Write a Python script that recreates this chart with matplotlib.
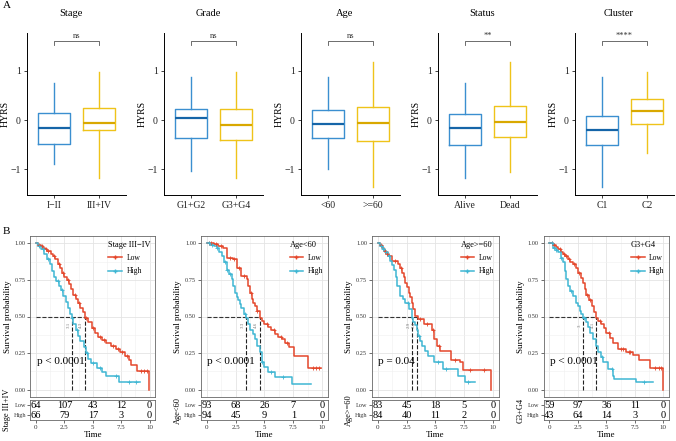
import numpy as np
import matplotlib.pyplot as plt
from matplotlib.lines import Line2D

plt.rcParams['font.family'] = ['Liberation Serif', 'DejaVu Serif']

# ---------------- panel A: HYRS boxplots ----------------
box_titles = ['Stage', 'Grade', 'Age', 'Status', 'Cluster']
box_groups = [['I\u2212II', 'III+IV'], ['G1+G2', 'G3+G4'], ['<60', '>=60'],
              ['Alive', 'Dead'], ['C1', 'C2']]
box_signif = ['ns', 'ns', 'ns', '**', '****']
# (whisker low, q1, median, q3, whisker high)
stage_box = [(-0.885, -0.49, -0.155, 0.14, 0.75), (-1.18, -0.20, -0.06, 0.24, 0.97)]
grade_box = [(-1.04, -0.37, 0.034, 0.22, 0.885), (-1.18, -0.40, -0.10, 0.23, 0.97)]
age_box = [(-0.99, -0.36, -0.07, 0.20, 0.885), (-1.36, -0.43, -0.05, 0.26, 1.19)]
status_box = [(-1.18, -0.51, -0.155, 0.12, 0.76), (-1.05, -0.34, -0.03, 0.29, 1.19)]
cluster_box = [(-1.36, -0.50, -0.20, 0.09, 0.885), (-0.67, -0.07, 0.18, 0.42, 0.97)]
box_data = [stage_box, grade_box, age_box, status_box, cluster_box]

# ---------------- panel B: Kaplan-Meier curves ----------------
km_titles = ['Stage III\u2212IV', 'Age<60', 'Age>=60', 'G3+G4']
km_table_labels = ['Stage III+IV', 'Age<60', 'Age>=60', 'G3+G4']
km_pvals = ['p < 0.0001', 'p < 0.0001', 'p = 0.04', 'p < 0.0001']

stage_low_t = [0, 0.2, 0.4, 0.6, 0.8, 1.0, 1.3, 1.5, 1.7, 1.9, 2.1, 2.3, 2.5, 2.7, 2.9, 3.1, 3.3, 3.5,
               3.7, 3.9, 4.1, 4.3, 4.6, 4.9, 5.2, 5.5, 5.8, 6.2, 6.6, 7.0, 7.4, 7.8, 8.2, 8.4, 8.9, 9.95]
stage_low_s = [1, 0.99, 0.98, 0.97, 0.96, 0.945, 0.93, 0.91, 0.89, 0.86, 0.83, 0.80, 0.77, 0.75, 0.72,
               0.69, 0.65, 0.62, 0.59, 0.56, 0.53, 0.49, 0.46, 0.42, 0.39, 0.36, 0.34, 0.32, 0.30, 0.28,
               0.26, 0.23, 0.20, 0.17, 0.13, 0.0]
stage_high_t = [0, 0.2, 0.4, 0.7, 1.0, 1.2, 1.4, 1.6, 1.8, 2.0, 2.2, 2.4, 2.6, 2.8, 3.0, 3.15, 3.3, 3.5,
                3.7, 3.9, 4.2, 4.4, 4.6, 4.8, 5.4, 5.8, 6.2, 7.3, 9.15]
stage_high_s = [1, 0.98, 0.96, 0.93, 0.89, 0.86, 0.81, 0.77, 0.74, 0.71, 0.68, 0.64, 0.60, 0.56, 0.52,
                0.49, 0.45, 0.41, 0.37, 0.33, 0.29, 0.25, 0.21, 0.18, 0.15, 0.12, 0.095, 0.05, 0.05]
stage_low_cens = [0.3, 0.5, 0.9, 1.1, 1.6, 2.0, 2.4, 2.8, 3.4, 3.8, 4.4, 5.0, 5.6, 6.0, 6.8, 7.2, 7.6,
                  8.0, 9.2, 9.5, 9.8]
stage_high_cens = [0.3, 0.6, 1.1, 1.9, 2.3, 3.2, 3.6, 4.5, 5.0, 5.6, 7.0, 8.2, 8.8]

young_low_t = [0, 0.6, 1.0, 1.45, 1.75, 2.3, 2.6, 3.0, 3.45, 3.6, 3.75, 3.9, 4.05, 4.2, 4.35, 4.6, 4.8,
               5.0, 5.3, 5.6, 5.9, 6.2, 6.5, 6.8, 7.1, 7.6, 8.8, 9.9]
young_low_s = [1, 0.995, 0.985, 0.97, 0.90, 0.89, 0.83, 0.78, 0.755, 0.71, 0.66, 0.62, 0.595, 0.57,
               0.54, 0.49, 0.47, 0.45, 0.43, 0.41, 0.38, 0.36, 0.345, 0.32, 0.29, 0.23, 0.15, 0.15]
young_high_t = [0, 0.3, 0.6, 0.86, 1.1, 1.3, 1.5, 1.73, 1.95, 2.16, 2.3, 2.45, 2.6, 2.74, 2.9, 3.0, 3.2,
                3.4, 3.6, 3.75, 4.0, 4.2, 4.4, 4.6, 4.75, 5.0, 5.3, 5.9, 7.35, 9.0]
young_high_s = [1, 0.99, 0.98, 0.97, 0.94, 0.91, 0.87, 0.82, 0.79, 0.755, 0.71, 0.66, 0.635, 0.61,
                0.585, 0.56, 0.52, 0.49, 0.45, 0.41, 0.38, 0.345, 0.30, 0.255, 0.19, 0.155, 0.12, 0.085,
                0.04, 0.04]
young_low_cens = [0.2, 0.4, 0.8, 1.2, 2.0, 2.4, 2.8, 3.2, 3.8, 4.4, 5.2, 5.8, 6.4, 7.0, 9.2, 9.5, 9.7]
young_high_cens = [0.2, 0.5, 0.9, 1.6, 1.8, 2.0, 3.3, 4.8, 5.6, 6.6]

old_low_t = [0, 0.23, 0.4, 0.52, 0.75, 0.95, 1.24, 1.8, 1.95, 2.1, 2.25, 2.4, 2.55, 2.68, 2.82, 2.97,
             3.1, 3.26, 3.5, 4.0, 4.7, 4.84, 5.1, 5.4, 6.35, 7.1, 7.4, 9.85]
old_low_s = [1, 0.99, 0.97, 0.945, 0.93, 0.91, 0.88, 0.857, 0.83, 0.80, 0.77, 0.73, 0.70, 0.66, 0.63,
             0.595, 0.55, 0.505, 0.48, 0.45, 0.41, 0.345, 0.30, 0.265, 0.20, 0.19, 0.135, 0.0]
old_high_t = [0, 0.23, 0.45, 0.66, 0.9, 1.1, 1.25, 1.4, 1.55, 1.7, 1.96, 2.2, 2.4, 2.68, 2.97, 3.1,
              3.26, 3.4, 3.5, 3.65, 3.83, 4.1, 4.4, 4.84, 5.7, 7.0, 7.6, 8.4]
old_high_s = [1, 0.98, 0.96, 0.94, 0.91, 0.88, 0.85, 0.82, 0.77, 0.71, 0.64, 0.62, 0.595, 0.55, 0.49,
              0.465, 0.44, 0.41, 0.37, 0.335, 0.30, 0.265, 0.23, 0.19, 0.14, 0.095, 0.05, 0.05]
old_low_cens = [0.3, 0.6, 0.8, 1.5, 2.0, 3.7, 4.3, 4.75, 5.3, 6.7, 8.0, 9.2]
old_high_cens = [0.3, 0.5, 0.7, 1.0, 2.6, 3.6, 5.2, 5.9, 7.8]

grade_low_t = [0, 0.32, 0.55, 0.76, 1.0, 1.2, 1.4, 1.64, 1.85, 2.08, 2.3, 2.5, 2.75, 2.95, 3.1, 3.25,
               3.45, 3.7, 3.9, 4.1, 4.3, 4.56, 4.8, 5.0, 5.3, 5.6, 6.0, 6.75, 7.3, 7.9, 8.8, 9.95]
grade_low_s = [1, 0.99, 0.975, 0.96, 0.94, 0.925, 0.91, 0.89, 0.875, 0.857, 0.83, 0.80, 0.765, 0.73,
               0.69, 0.65, 0.61, 0.57, 0.53, 0.49, 0.47, 0.45, 0.42, 0.39, 0.355, 0.32, 0.28, 0.255,
               0.24, 0.20, 0.15, 0.0]
grade_high_t = [0, 0.32, 0.55, 0.76, 1.0, 1.2, 1.35, 1.5, 1.65, 1.8, 2.08, 2.37, 2.5, 2.66, 2.8, 2.95,
                3.2, 3.4, 3.6, 3.83, 4.05, 4.27, 4.5, 4.7, 5.15, 5.6, 5.7, 7.6, 9.1]
grade_high_s = [1, 0.97, 0.955, 0.94, 0.90, 0.87, 0.81, 0.755, 0.71, 0.675, 0.64, 0.595, 0.57, 0.54,
                0.515, 0.49, 0.46, 0.425, 0.385, 0.345, 0.30, 0.255, 0.22, 0.19, 0.14, 0.095, 0.073,
                0.05, 0.05]
grade_low_cens = [0.2, 0.4, 0.9, 1.3, 1.5, 1.7, 2.2, 2.6, 3.3, 3.6, 4.4, 5.2, 6.3, 6.5, 7.0, 7.1, 9.3,
                  9.6, 9.8]
grade_high_cens = [0.2, 0.4, 0.6, 1.0, 1.9, 3.0, 4.6, 5.5, 8.3]

# median survival (high, low) and their labels
km_medians = [(3.15, 4.3), (3.4, 4.6), (2.97, 3.4), (2.95, 4.1)]
km_median_labels = [('3.1', '4.3'), ('3.3', '4.6'), ('2.9', '3.4'), ('3', '4.1')]

risk_times = [0, 2.5, 5, 7.5, 10]
stage_risk_low = [64, 107, 43, 12, 0]
stage_risk_high = [66, 79, 17, 3, 0]
young_risk_low = [93, 68, 26, 7, 0]
young_risk_high = [94, 45, 9, 1, 0]
old_risk_low = [83, 45, 18, 5, 0]
old_risk_high = [84, 40, 11, 2, 0]
grade_risk_low = [59, 97, 36, 11, 0]
grade_risk_high = [43, 64, 14, 3, 0]

km_curves = [
    (stage_low_t, stage_low_s, stage_low_cens, stage_high_t, stage_high_s, stage_high_cens),
    (young_low_t, young_low_s, young_low_cens, young_high_t, young_high_s, young_high_cens),
    (old_low_t, old_low_s, old_low_cens, old_high_t, old_high_s, old_high_cens),
    (grade_low_t, grade_low_s, grade_low_cens, grade_high_t, grade_high_s, grade_high_cens),
]
km_risk = [(stage_risk_low, stage_risk_high), (young_risk_low, young_risk_high),
           (old_risk_low, old_risk_high), (grade_risk_low, grade_risk_high)]

BLUE, BLUE_D = '#3b8fd0', '#1565a8'
YEL, YEL_D = '#efc31a', '#d9a800'
RED, CYAN = '#e4472b', '#3fb6d3'
GREY = '#555555'

W, H = 676, 441
fig = plt.figure(figsize=(W / 100, H / 100), dpi=100)


def add_axes_px(left, top, width, height):
    return fig.add_axes([left / W, 1 - (top + height) / H, width / W, height / H])


# ---- top row ----
box_lefts = [27, 164, 301, 438, 575]
box_w = 99
for i in range(5):
    ax = add_axes_px(box_lefts[i], 33, box_w, 162)
    stats = []
    for wl, q1, med, q3, wh in box_data[i]:
        stats.append({'whislo': wl, 'q1': q1, 'med': med, 'q3': q3, 'whishi': wh, 'fliers': []})
    for j, (c, cd) in enumerate([(BLUE, BLUE_D), (YEL, YEL_D)]):
        ax.bxp([stats[j]], positions=[j + 1], widths=0.7, showcaps=False, showfliers=False,
               boxprops=dict(color=c, lw=1.0), whiskerprops=dict(color=c, lw=1.0),
               medianprops=dict(color=cd, lw=1.6))
    ax.set_xlim(0.4, 2.6)
    ax.set_ylim(-1.52, 1.77)
    ax.set_yticks([-1, 0, 1])
    ax.set_yticklabels(['\u22121', '0', '1'])
    ax.set_xticks([1, 2])
    ax.set_xticklabels(box_groups[i])
    ax.tick_params(labelsize=7, length=2.5, width=0.6, pad=2, colors='#222')
    for sp in ['top', 'right']:
        ax.spines[sp].set_visible(False)
    for sp in ['left', 'bottom']:
        ax.spines[sp].set_linewidth(0.7)
    ax.set_ylabel('HYRS', fontsize=7)
    ax.yaxis.set_label_coords(-17 / box_w, 0.5)
    ax.plot([1, 1, 2, 2], [1.53, 1.6, 1.6, 1.53], color=GREY, lw=0.6)
    ax.text(1.5, 1.62, box_signif[i], ha='center', va='bottom', fontsize=6, color='#333')
    fig.text((box_lefts[i] + 44) / W, 1 - 13 / H, box_titles[i], ha='center', va='center', fontsize=7.5)

fig.text(3 / W, 1 - 6 / H, 'A', fontsize=8, va='center', ha='left')
fig.text(3 / W, 1 - 232 / H, 'B', fontsize=8, va='center', ha='left')

# ---- bottom row ----
km_lefts = [30.3, 200.9, 371.9, 543.6]
km_widths = [125, 127, 127, 125.5]


def surv_at(t, s, x):
    idx = np.searchsorted(np.asarray(t), np.asarray(x), side='right') - 1
    return np.asarray(s)[idx]


for i in range(4):
    ax = add_axes_px(km_lefts[i], 236, km_widths[i], 161)
    lt, ls, lc, ht, hs, hc = km_curves[i]
    ax.step(lt, ls, where='post', color=RED, lw=1.1, zorder=3)
    ax.step(ht, hs, where='post', color=CYAN, lw=1.1, zorder=3)
    ax.plot(lc, surv_at(lt, ls, lc), '+', color=RED, ms=3.5, mew=0.6, zorder=3)
    ax.plot(hc, surv_at(ht, hs, hc), '+', color=CYAN, ms=3.5, mew=0.6, zorder=3)
    m_high, m_low = km_medians[i]
    ax.plot([0, max(m_high, m_low)], [0.5, 0.5], ls='--', color='#333', lw=0.8, zorder=2)
    for m, lab in zip((m_high, m_low), km_median_labels[i]):
        ax.plot([m, m], [0, 0.5], ls='--', color='#222', lw=0.8, zorder=2)
        ax.text(m - 0.3, 0.44, lab, rotation=90, fontsize=3.5, color='#777', ha='center', va='center')
    ax.text(0.05, 0.19, km_pvals[i], fontsize=8, ha='left', va='center')
    ax.set_xlim(-0.5, 10.5)
    ax.set_ylim(-0.05, 1.05)
    ax.set_xticks([0, 2.5, 5, 7.5, 10])
    ax.set_xticks([1.25, 3.75, 6.25, 8.75], minor=True)
    ax.set_yticks([0, 0.25, 0.5, 0.75, 1])
    ax.set_yticks([0.125, 0.375, 0.625, 0.875], minor=True)
    ax.set_yticklabels(['0.00', '0.25', '0.50', '0.75', '1.00'])
    ax.tick_params(axis='x', labelbottom=False, length=0)
    ax.tick_params(axis='x', which='minor', length=0)
    ax.tick_params(axis='y', which='minor', length=0)
    ax.tick_params(axis='y', labelsize=4.5, length=2, width=0.5, pad=1.5, colors='#333')
    ax.grid(which='major', color='#e4e4e4', lw=0.6)
    ax.grid(which='minor', color='#f0f0f0', lw=0.4)
    ax.set_axisbelow(True)
    for sp in ax.spines.values():
        sp.set_color('#666')
        sp.set_linewidth(0.6)
    ax.set_ylabel('Survival probability', fontsize=6.5, labelpad=2)
    handles = [Line2D([], [], color=RED, lw=1.1, marker='+', ms=3.5),
               Line2D([], [], color=CYAN, lw=1.1, marker='+', ms=3.5)]
    ax.legend(handles, ['Low', 'High'], title=km_titles[i], loc='upper right',
              bbox_to_anchor=(1.0, 1.0), frameon=False, fontsize=5.5, title_fontsize=6,
              handlelength=1.8, handletextpad=0.6, labelspacing=0.7, borderaxespad=0.2,
              alignment='left')

    # number at risk table
    tx = add_axes_px(km_lefts[i], 400, km_widths[i], 20)
    r_low, r_high = km_risk[i]
    for x, a, b in zip(risk_times, r_low, r_high):
        tx.text(x, 1.5, str(a), ha='center', va='center', fontsize=7.5)
        tx.text(x, 0.5, str(b), ha='center', va='center', fontsize=7.5)
    tx.set_xlim(-0.5, 10.5)
    tx.set_ylim(0, 2)
    tx.set_xticks(risk_times)
    tx.set_xticklabels(['0', '2.5', '5', '7.5', '10'])
    tx.set_yticks([1.5, 0.5])
    tx.set_yticklabels(['Low', 'High'])
    tx.tick_params(axis='x', labelsize=5, length=2, width=0.5, pad=1.5, colors='#333')
    tx.tick_params(axis='y', labelsize=4.5, length=2, width=0.5, pad=1, colors='#333')
    for sp in tx.spines.values():
        sp.set_color('#666')
        sp.set_linewidth(0.6)
    tx.set_xlabel('Time', fontsize=6.5, labelpad=1)
    tx.set_ylabel(km_table_labels[i], fontsize=6, labelpad=2)

fig.savefig('out.png', dpi=100)
